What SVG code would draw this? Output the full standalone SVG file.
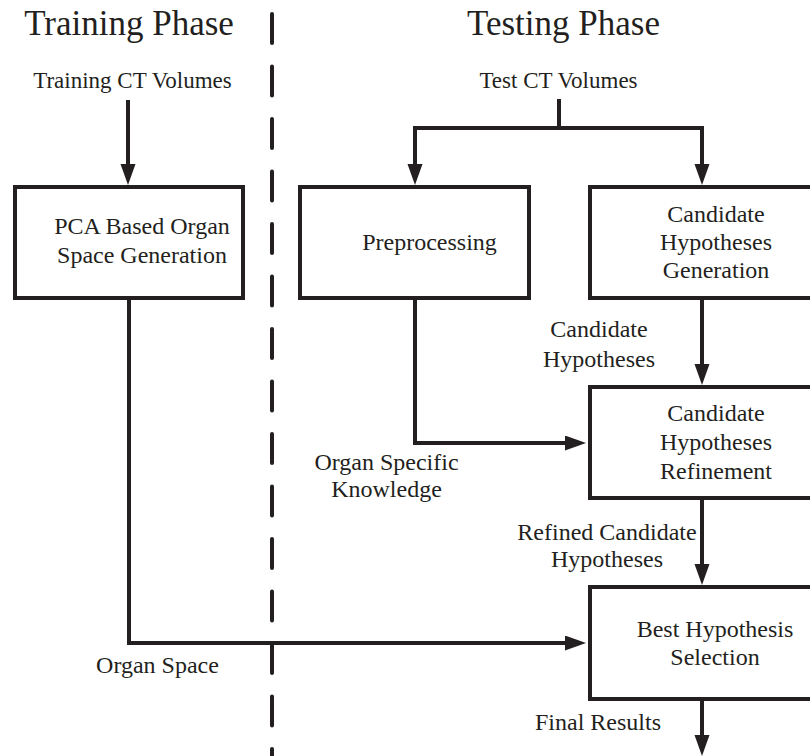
<svg xmlns="http://www.w3.org/2000/svg" width="810" height="756" viewBox="0 0 810 756">
<style>
  text { font-family: "Liberation Serif", "Times New Roman", serif; fill: #231f20; text-anchor: middle; }
  .title { font-size: 35px; }
  .lbl { font-size: 24px; }
  .top { font-size: 23px; }
  .box { fill: #ffffff; stroke: #231f20; stroke-width: 4; }
  .conn { fill: none; stroke: #231f20; stroke-width: 4; stroke-linejoin: miter; }
  .divider { fill: none; stroke: #231f20; stroke-width: 4; stroke-linecap: round; stroke-dasharray: 29 23.5; }
</style>
<defs>
  <marker id="arrow" markerUnits="userSpaceOnUse" markerWidth="22" markerHeight="16" refX="15" refY="7.5" orient="auto">
    <path d="M0,0 L21,7.5 L0,15 Z" fill="#231f20"/>
  </marker>
</defs>
<rect x="0" y="0" width="810" height="756" fill="#ffffff"/>

<g id="divider">
  <line class="divider" x1="272" y1="14" x2="272" y2="780"/>
</g>

<g id="titles">
  <text class="title" x="129" y="35">Training Phase</text>
  <text class="title" x="563.5" y="35">Testing Phase</text>
</g>

<g id="connectors">
  <path class="conn" d="M128,100 V179" marker-end="url(#arrow)"/>
  <path class="conn" d="M559,99 V128"/>
  <path class="conn" d="M415,128 H702"/>
  <path class="conn" d="M415,126 V179" marker-end="url(#arrow)"/>
  <path class="conn" d="M702,126 V179" marker-end="url(#arrow)"/>
  <path class="conn" d="M415,298 V443 H580" marker-end="url(#arrow)"/>
  <path class="conn" d="M702,298 V379" marker-end="url(#arrow)"/>
  <path class="conn" d="M702,498 V579" marker-end="url(#arrow)"/>
  <path class="conn" d="M129,298 V643 H580" marker-end="url(#arrow)"/>
  <path class="conn" d="M702,699 V750" marker-end="url(#arrow)"/>
</g>

<g id="node-pca">
  <rect class="box" x="15" y="187" width="228" height="111"/>
  <text class="lbl" x="142" y="234">PCA Based Organ</text>
  <text class="lbl" x="142" y="262.5">Space Generation</text>
</g>

<g id="node-preprocessing">
  <rect class="box" x="300" y="187" width="229" height="111"/>
  <text class="lbl" x="429.5" y="250">Preprocessing</text>
</g>

<g id="node-generation">
  <rect class="box" x="590" y="187" width="240" height="111"/>
  <text class="lbl" x="716" y="222">Candidate</text>
  <text class="lbl" x="716" y="250">Hypotheses</text>
  <text class="lbl" x="716" y="278">Generation</text>
</g>

<g id="node-refinement">
  <rect class="box" x="590" y="387" width="240" height="111"/>
  <text class="lbl" x="716" y="421">Candidate</text>
  <text class="lbl" x="716" y="450">Hypotheses</text>
  <text class="lbl" x="716" y="479">Refinement</text>
</g>

<g id="node-selection">
  <rect class="box" x="590" y="587" width="240" height="112"/>
  <text class="lbl" x="715" y="637">Best Hypothesis</text>
  <text class="lbl" x="715" y="665">Selection</text>
</g>

<g id="labels">
  <text class="top" x="132.5" y="88">Training CT Volumes</text>
  <text class="top" x="558.5" y="88">Test CT Volumes</text>
  <text class="lbl" x="599" y="337">Candidate</text>
  <text class="lbl" x="599" y="367">Hypotheses</text>
  <text class="lbl" x="386.5" y="470">Organ Specific</text>
  <text class="lbl" x="386.5" y="497">Knowledge</text>
  <text class="lbl" x="607" y="540">Refined Candidate</text>
  <text class="lbl" x="607" y="567">Hypotheses</text>
  <text class="lbl" x="157.5" y="673">Organ Space</text>
  <text class="lbl" x="598" y="730">Final Results</text>
</g>
</svg>
